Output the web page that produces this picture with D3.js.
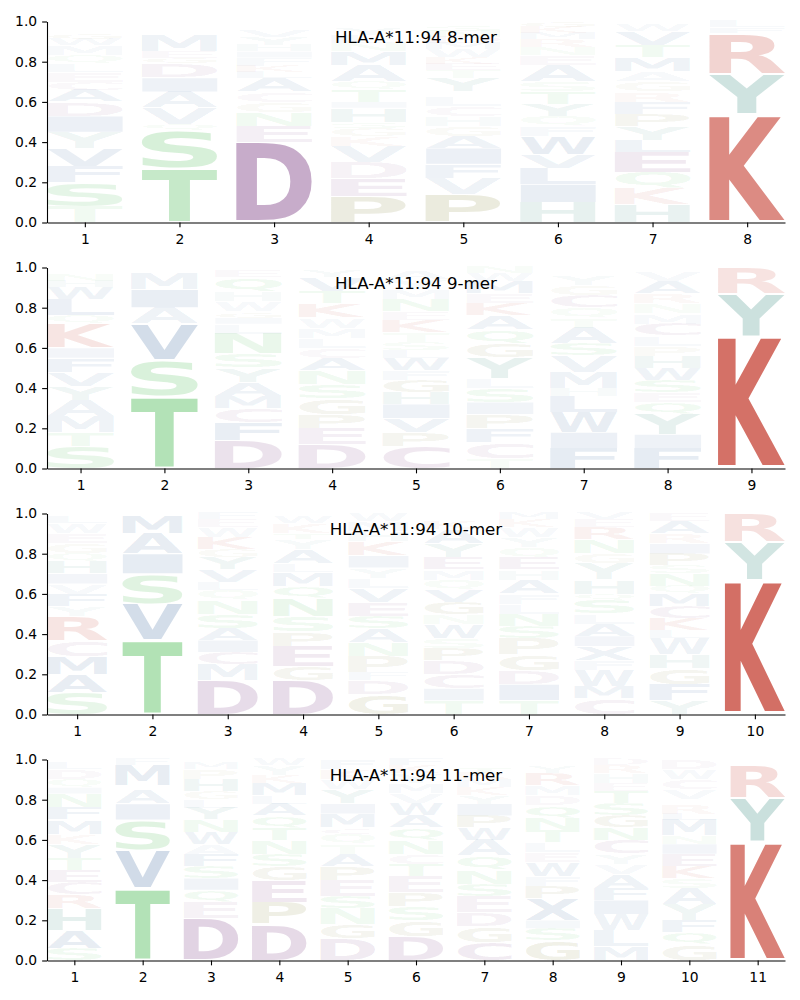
<!DOCTYPE html>
<html><head><meta charset="utf-8">
<script src="https://cdn.jsdelivr.net/npm/d3@7"></script>
<style>body{margin:0;background:#fff}</style>
</head><body>
<svg id="chart" width="800" height="1000"></svg>
<script>
// ---------------- data ----------------
const titles = ["HLA-A*11:94 8-mer", "HLA-A*11:94 9-mer", "HLA-A*11:94 10-mer", "HLA-A*11:94 11-mer"];
const yTickValues = [0, 0.2, 0.4, 0.6, 0.8, 1.0];

// each position: letters from bottom to top, [residue, probability]
const mer8 = [
  [["T",.08],["S",.12],["F",.08],["V",.09],["Y",.08],["I",.08],["D",.07],["A",.06],["C",.04],["E",.05],["L",.04],["Q",.04],["M",.05],["W",.03],["G",.03],["N",.02],["K",.02],["R",.02]],
  [["T",.27],["S",.19],["Q",.03],["V",.08],["A",.08],["I",.07],["D",.07],["G",.03],["E",.03],["M",.08],["L",.02],["N",.02],["K",.02],["F",.01]],
  [["D",.40],["E",.08],["N",.07],["G",.05],["C",.05],["A",.07],["L",.03],["K",.03],["F",.04],["I",.03],["H",.03],["Y",.04],["V",.03],["W",.02],["M",.02],["S",.01]],
  [["P",.13],["E",.09],["D",.08],["V",.08],["K",.05],["G",.04],["S",.03],["H",.07],["I",.03],["T",.06],["Q",.04],["A",.08],["M",.07],["N",.04],["L",.04],["Y",.03],["R",.02],["F",.02]],
  [["P",.14],["V",.08],["F",.07],["I",.08],["A",.06],["G",.05],["H",.05],["C",.05],["L",.05],["Q",.02],["Y",.07],["T",.04],["E",.03],["K",.03],["W",.04],["M",.03],["D",.03],["N",.03],["S",.03],["R",.02]],
  [["H",.10],["I",.09],["L",.08],["V",.07],["W",.09],["F",.05],["Q",.05],["Y",.06],["T",.06],["S",.05],["A",.08],["E",.05],["N",.04],["R",.04],["M",.03],["K",.03],["G",.03]],
  [["H",.09],["K",.08],["Q",.08],["E",.10],["L",.06],["Y",.07],["P",.06],["F",.06],["R",.05],["G",.05],["A",.05],["M",.07],["T",.06],["V",.07],["W",.03],["N",.02]],
  [["K",.54],["Y",.20],["R",.20],["F",.03],["L",.03]]
];
const mer9 = [
  [["S",.11],["T",.07],["M",.08],["A",.08],["Y",.07],["V",.07],["F",.07],["I",.05],["K",.12],["Q",.04],["L",.08],["W",.06],["H",.03],["N",.03],["E",.02],["G",.02]],
  [["T",.36],["S",.18],["V",.18],["A",.08],["I",.09],["M",.08],["L",.02],["F",.01]],
  [["D",.14],["F",.09],["C",.07],["M",.06],["A",.07],["Y",.07],["S",.07],["N",.10],["L",.05],["I",.03],["G",.03],["W",.05],["H",.05],["Q",.07],["E",.03],["K",.02]],
  [["D",.12],["E",.08],["P",.07],["G",.08],["S",.07],["N",.07],["A",.06],["C",.05],["L",.05],["M",.05],["W",.05],["K",.07],["T",.06],["V",.07],["Y",.03],["Q",.02]],
  [["C",.11],["P",.07],["V",.07],["I",.07],["H",.06],["G",.06],["F",.05],["W",.06],["L",.04],["S",.04],["T",.05],["K",.06],["E",.04],["N",.06],["M",.05],["Y",.05],["A",.04],["R",.02]],
  [["T",.05],["C",.08],["F",.07],["P",.07],["I",.06],["S",.07],["L",.05],["Y",.10],["G",.07],["Q",.07],["A",.07],["K",.06],["E",.05],["M",.06],["W",.04],["N",.03]],
  [["F",.10],["I",.08],["W",.10],["L",.08],["H",.04],["M",.08],["V",.08],["S",.06],["A",.08],["T",.05],["Q",.05],["C",.06],["G",.05],["Y",.05],["N",.02],["K",.02]],
  [["F",.10],["I",.07],["Y",.10],["Q",.06],["E",.05],["S",.06],["W",.06],["H",.06],["P",.05],["L",.05],["C",.06],["M",.05],["N",.05],["R",.05],["A",.06],["V",.05],["K",.02]],
  [["K",.66],["Y",.21],["R",.13]]
];
const mer10 = [
  [["S",.11],["A",.09],["M",.09],["C",.08],["R",.12],["Y",.05],["F",.06],["V",.05],["I",.05],["H",.06],["Q",.04],["G",.05],["E",.05],["W",.05],["L",.03],["N",.02]],
  [["T",.37],["V",.18],["S",.15],["I",.10],["A",.10],["M",.09],["L",.01]],
  [["D",.17],["M",.08],["C",.06],["I",.06],["A",.06],["S",.07],["N",.07],["Q",.05],["L",.04],["V",.06],["Y",.06],["G",.04],["K",.06],["W",.05],["E",.04],["F",.03]],
  [["D",.17],["G",.07],["E",.10],["P",.07],["S",.08],["N",.09],["Q",.06],["M",.07],["L",.04],["A",.07],["Y",.05],["T",.03],["K",.05],["W",.03],["F",.02]],
  [["G",.10],["D",.07],["F",.04],["P",.08],["N",.07],["A",.07],["S",.06],["E",.07],["V",.07],["L",.05],["Y",.05],["I",.06],["K",.07],["H",.05],["M",.05],["W",.04]],
  [["T",.07],["I",.06],["C",.07],["D",.07],["P",.06],["S",.05],["W",.07],["N",.05],["G",.06],["V",.06],["Q",.05],["M",.05],["E",.06],["Y",.07],["A",.07],["K",.04],["R",.02],["L",.02]],
  [["T",.07],["I",.08],["D",.07],["G",.08],["P",.08],["S",.06],["N",.06],["L",.05],["F",.05],["A",.07],["H",.05],["E",.06],["Q",.05],["Y",.05],["W",.05],["K",.04],["M",.03]],
  [["C",.08],["M",.06],["W",.08],["F",.05],["X",.07],["I",.05],["A",.06],["L",.05],["S",.07],["Q",.03],["H",.07],["Y",.08],["G",.05],["N",.07],["R",.06],["E",.04],["V",.03]],
  [["Y",.07],["F",.08],["G",.08],["H",.07],["W",.08],["L",.04],["K",.06],["C",.06],["M",.06],["Q",.04],["N",.06],["S",.04],["P",.06],["I",.05],["R",.05],["A",.06],["E",.04]],
  [["K",.67],["Y",.19],["R",.14]]
];
const mer11 = [
  [["S",.06],["A",.09],["H",.11],["R",.07],["C",.06],["E",.06],["T",.06],["Y",.07],["K",.05],["M",.07],["F",.06],["N",.07],["I",.03],["Q",.04],["D",.05],["L",.03],["G",.02]],
  [["T",.36],["V",.19],["S",.15],["I",.08],["A",.07],["L",.02],["M",.10],["F",.03]],
  [["D",.21],["E",.08],["Q",.06],["I",.06],["S",.06],["F",.06],["A",.05],["W",.06],["N",.06],["Y",.06],["L",.04],["G",.04],["H",.06],["P",.05],["M",.03],["K",.02]],
  [["D",.18],["P",.11],["E",.11],["G",.07],["S",.06],["N",.07],["T",.06],["Q",.06],["A",.06],["L",.04],["M",.06],["K",.04],["Y",.05],["W",.03]],
  [["D",.11],["G",.07],["N",.08],["S",.06],["E",.08],["P",.07],["A",.06],["T",.05],["Q",.05],["C",.03],["M",.07],["I",.05],["Y",.07],["W",.05],["K",.05],["F",.05]],
  [["D",.12],["G",.08],["S",.07],["P",.07],["E",.08],["T",.06],["C",.05],["N",.07],["Q",.06],["A",.06],["W",.06],["V",.05],["M",.05],["Y",.05],["K",.04],["F",.03]],
  [["C",.09],["G",.08],["D",.07],["E",.08],["S",.06],["N",.07],["Q",.07],["A",.08],["W",.06],["P",.06],["I",.06],["Y",.04],["K",.04],["M",.04],["R",.03],["T",.03],["L",.02],["H",.02]],
  [["G",.10],["S",.06],["I",.04],["X",.11],["P",.06],["F",.05],["W",.07],["E",.05],["L",.05],["T",.06],["N",.06],["Q",.06],["D",.05],["M",.05],["R",.06],["Y",.03],["K",.02],["H",.02]],
  [["M",.07],["L",.08],["W",.08],["I",.07],["F",.06],["A",.07],["V",.05],["Y",.05],["C",.07],["N",.06],["G",.06],["S",.06],["T",.06],["E",.04],["H",.05],["R",.04],["D",.03]],
  [["G",.08],["Q",.06],["F",.06],["Y",.08],["A",.08],["S",.05],["K",.06],["E",.06],["I",.05],["N",.04],["M",.08],["L",.03],["R",.05],["H",.02],["V",.05],["C",.05],["W",.05],["D",.05]],
  [["K",.59],["Y",.22],["R",.16],["F",.02],["L",.01]]
];
const panels = [mer8, mer9, mer10, mer11];

// residue colour groups
const residueGroup = {
  S:"green", T:"green", N:"green", Q:"green",
  A:"blue", V:"blue", L:"blue", I:"blue", M:"blue", F:"blue", W:"blue", X:"blue",
  Y:"teal", H:"teal",
  K:"red", R:"red",
  D:"purple", E:"purple", C:"purple",
  P:"olive", G:"olive"
};
const groupColor = {green:"#2daf37", blue:"#0a4187", teal:"#0f7364", red:"#be2819", purple:"#73307a", olive:"#6e6e14"};

// ---------------- drawing ----------------
const FONT = "DejaVu Sans";
const ctx = document.createElement("canvas").getContext("2d");
ctx.font = `bold 100px "${FONT}"`;
const inkCache = {};
function ink(ch) {
  if (!inkCache[ch]) {
    const m = ctx.measureText(ch);
    inkCache[ch] = {l: m.actualBoundingBoxLeft, r: m.actualBoundingBoxRight, a: m.actualBoundingBoxAscent, d: m.actualBoundingBoxDescent};
  }
  return inkCache[ch];
}

const svg = d3.select("#chart");
const left = 47, right = 785, top0 = 21.5, step = 246, ph = 201;
const glyphWidth = 0.8, vpad = 0.05;

panels.forEach((data, i) => {
  const L = data.length;
  const top = top0 + i * step;
  const x = d3.scaleLinear().domain([0.6, L + 0.4]).range([left, right]);
  const y = d3.scaleLinear().domain([0, 1]).range([top + ph, top]);
  const g = svg.append("g");

  data.forEach((col, j) => {
    let floor = 0;
    col.forEach(([ch, p]) => {
      const pad = vpad / 2 * p;
      const yTop = y(floor + p - pad), yBot = y(floor + pad);
      const x0 = x(j + 1 - glyphWidth / 2), x1 = x(j + 1 + glyphWidth / 2);
      const m = ink(ch);
      const sx = (x1 - x0) / (m.l + m.r), sy = (yBot - yTop) / (m.a + m.d);
      g.append("text")
        .attr("transform", `translate(${x0},${yTop}) scale(${sx},${sy}) translate(${m.l},${m.a})`)
        .attr("font-family", FONT).attr("font-weight", "bold").attr("font-size", 100)
        .attr("fill", groupColor[residueGroup[ch]])
        .attr("fill-opacity", p)
        .text(ch);
      floor += p;
    });
  });

  const xAxis = d3.axisBottom(x).tickValues(d3.range(1, L + 1)).tickFormat(d3.format("d"))
    .tickSize(4.86).tickSizeOuter(0).tickPadding(6.3);
  const yAxis = d3.axisLeft(y).tickValues(yTickValues).tickFormat(d3.format(".1f"))
    .tickSize(4.86).tickSizeOuter(0).tickPadding(5);

  const gx = g.append("g").attr("transform", `translate(0,${top + ph})`).call(xAxis);
  const gy = g.append("g").attr("transform", `translate(${left},0)`).call(yAxis);
  [gx, gy].forEach(a => {
    a.selectAll("path,line").attr("stroke", "#000").attr("stroke-width", 1.1);
    a.selectAll("text").attr("font-family", FONT).attr("font-size", "13.89px").attr("fill", "#000");
  });

  g.append("text")
    .attr("x", (left + right) / 2).attr("y", top + 21)
    .attr("text-anchor", "middle")
    .attr("font-family", FONT).attr("font-size", "16.67px").attr("fill", "#000")
    .text(titles[i]);
});
</script>
</body></html>
